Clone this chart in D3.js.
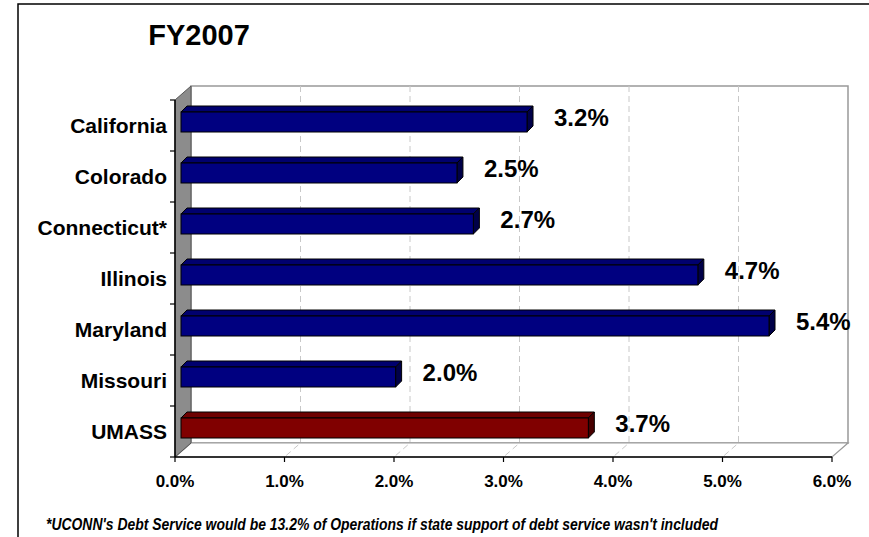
<!DOCTYPE html>
<html>
<head>
<meta charset="utf-8">
<script src="https://cdn.jsdelivr.net/npm/d3@7"></script>
<style>
  body { margin: 0; background: #fff; }
  svg { display: block; font-family: "Liberation Sans", Arial, sans-serif; }
</style>
</head>
<body>
<svg id="chart" width="869" height="537"></svg>
<script>
var title = 'FY2007';
var states = ['California', 'Colorado', 'Connecticut*', 'Illinois', 'Maryland', 'Missouri', 'UMASS'];
var debtShare = [0.0316, 0.0252, 0.0267, 0.0472, 0.0537, 0.0196, 0.0372];
var tickValues = [0, 0.01, 0.02, 0.03, 0.04, 0.05, 0.06];
var footnote = "*UCONN's Debt Service would be 13.2% of Operations if state support of debt service wasn't included";

var svg = d3.select('#chart');

// outer frame (only left and top edges fall inside the window)
svg.append('rect')
  .attr('x', 18).attr('y', 4)
  .attr('width', 900).attr('height', 600)
  .attr('fill', 'none')
  .attr('stroke', '#000')
  .attr('stroke-width', 1.5);

var pLeft = 175, pRight = 832, pTop = 100, pBottom = 457;
var dx = 16, dy = -14;     // depth of the 3d box
var bx = 6, by = -6;       // depth of a bar

var x = d3.scaleLinear().domain([0, 0.06]).range([pLeft, pRight]);
var y = d3.scaleBand().domain(states).range([pTop, pBottom]);

// back wall
svg.append('path')
  .attr('d', 'M' + (pLeft + dx) + ',' + (pTop + dy) + 'H' + (pRight + dx) + 'V' + (pBottom + dy) + 'H' + (pLeft + dx) + 'Z')
  .attr('fill', '#fff')
  .attr('stroke', '#999')
  .attr('stroke-width', 1.5);

// floor
svg.append('path')
  .attr('d', 'M' + pLeft + ',' + pBottom + 'L' + (pLeft + dx) + ',' + (pBottom + dy) + 'H' + (pRight + dx) + 'L' + pRight + ',' + pBottom + 'Z')
  .attr('fill', '#fff')
  .attr('stroke', '#999')
  .attr('stroke-width', 1.2);

// gridlines on wall and floor
var grid = svg.append('g').attr('stroke', '#c8c8c8').attr('stroke-dasharray', '6,4').attr('fill', 'none');
grid.selectAll('.gw')
  .data(tickValues.slice(1, -1))
  .enter().append('path')
  .attr('d', d => 'M' + (x(d) + dx) + ',' + (pTop + dy) + 'V' + (pBottom + dy) + 'L' + x(d) + ',' + pBottom);

// left side wall
svg.append('path')
  .attr('d', 'M' + pLeft + ',' + pTop + 'L' + (pLeft + dx) + ',' + (pTop + dy) + 'V' + (pBottom + dy) + 'L' + pLeft + ',' + pBottom + 'Z')
  .attr('fill', '#8c8c8c')
  .attr('stroke', '#555')
  .attr('stroke-width', 1);

// axes lines
svg.append('line')
  .attr('x1', pLeft).attr('x2', pRight)
  .attr('y1', pBottom).attr('y2', pBottom)
  .attr('stroke', '#000').attr('stroke-width', 1.5);
svg.append('line')
  .attr('x1', pLeft).attr('x2', pLeft)
  .attr('y1', pTop).attr('y2', pBottom)
  .attr('stroke', '#000').attr('stroke-width', 1.5);

// tick marks
svg.selectAll('.xt')
  .data(tickValues)
  .enter().append('line')
  .attr('x1', d => x(d)).attr('x2', d => x(d))
  .attr('y1', pBottom).attr('y2', pBottom + 5)
  .attr('stroke', '#000').attr('stroke-width', 1.2);
svg.selectAll('.yt')
  .data(states.map(d => y(d)).concat([pBottom]))
  .enter().append('line')
  .attr('x1', pLeft - 5).attr('x2', pLeft)
  .attr('y1', d => d).attr('y2', d => d)
  .attr('stroke', '#000').attr('stroke-width', 1.2);

svg.selectAll('.xl')
  .data(tickValues)
  .enter().append('text')
  .attr('x', d => x(d))
  .attr('y', 487)
  .attr('text-anchor', 'middle')
  .style('font-size', '17px')
  .style('font-weight', 'bold')
  .text(d3.format('.1%'));

svg.selectAll('.yl')
  .data(states)
  .enter().append('text')
  .attr('x', 167)
  .attr('y', d => y(d) + y.bandwidth() / 2 + 7.5)
  .attr('text-anchor', 'end')
  .style('font-size', '21px')
  .style('font-weight', 'bold')
  .text(d => d);

// bars
var rows = states.map((s, i) => ({ state: s, value: debtShare[i] }));
var colors = {
  blue: { front: '#000080', top: '#00006e', side: '#000048' },
  red: { front: '#800000', top: '#6e0000', side: '#480000' }
};

var bar = svg.selectAll('.bar')
  .data(rows)
  .enter().append('g')
  .attr('class', 'bar');

function face(d) { return d.state === 'UMASS' ? colors.red : colors.blue; }

bar.each(function(d) {
  var g = d3.select(this);
  var x0 = x(0) + bx, x1 = x(d.value) + bx;
  var y0 = y(d.state) + 12, h = 20;
  var c = face(d);
  g.append('path')
    .attr('d', 'M' + x0 + ',' + y0 + 'L' + (x0 + bx) + ',' + (y0 + by) + 'H' + (x1 + bx) + 'L' + x1 + ',' + y0 + 'Z')
    .attr('fill', c.top).attr('stroke', '#000').attr('stroke-width', 1);
  g.append('path')
    .attr('d', 'M' + x1 + ',' + y0 + 'L' + (x1 + bx) + ',' + (y0 + by) + 'V' + (y0 + by + h) + 'L' + x1 + ',' + (y0 + h) + 'Z')
    .attr('fill', c.side).attr('stroke', '#000').attr('stroke-width', 1);
  g.append('rect')
    .attr('x', x0).attr('y', y0)
    .attr('width', x1 - x0).attr('height', h)
    .attr('fill', c.front).attr('stroke', '#000').attr('stroke-width', 1);
});

bar.append('text')
  .attr('x', d => x(d.value) + bx + 27)
  .attr('y', d => y(d.state) + y.bandwidth() / 2 - 8 + 8.6)
  .style('font-size', '24px')
  .style('font-weight', 'bold')
  .text(d => d3.format('.1%')(d.value));

svg.append('text')
  .attr('x', 199)
  .attr('y', 45)
  .attr('text-anchor', 'middle')
  .style('font-size', '29px')
  .style('font-weight', 'bold')
  .text(title);

svg.append('text')
  .attr('x', 46)
  .attr('y', 530)
  .attr('textLength', 672)
  .attr('lengthAdjust', 'spacingAndGlyphs')
  .style('font-size', '17px')
  .style('font-weight', 'bold')
  .style('font-style', 'italic')
  .text(footnote);
</script>
</body>
</html>
